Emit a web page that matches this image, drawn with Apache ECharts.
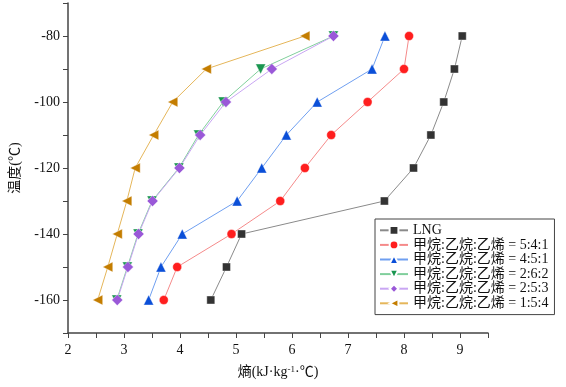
<!DOCTYPE html>
<html>
<head>
<meta charset="utf-8">
<script src="https://cdn.jsdelivr.net/npm/echarts@6/dist/echarts.min.js"></script>
<style>
  html, body { margin: 0; padding: 0; background: #fff; }
  #chart { width: 566px; height: 387px; }
</style>
</head>
<body>
<div id="chart"></div>
<script>
// temperature levels (℃) shared by every series
const temps = [-80, -90, -100, -110, -120, -130, -140, -150, -160];

// entropy (kJ·kg-1·℃), one value per temperature
const lng   = [9.04, 8.90, 8.71, 8.48, 8.17, 7.65, 5.10, 4.83, 4.55];
const r541  = [8.09, 8.00, 7.35, 6.70, 6.23, 5.79, 4.92, 3.95, 3.71];
const r451  = [7.66, 7.43, 6.45, 5.90, 5.46, 5.02, 4.04, 3.66, 3.44];
const r262  = [6.74, 5.44, 4.77, 4.33, 3.98, 3.50, 3.25, 3.06, 2.87];
const r253  = [6.74, 5.64, 4.82, 4.36, 3.99, 3.51, 3.26, 3.07, 2.88];
const r154  = [6.23, 4.47, 3.87, 3.53, 3.20, 3.05, 2.88, 2.71, 2.53];

const seriesNames = [
  'LNG',
  '甲烷:乙烷:乙烯 = 5:4:1',
  '甲烷:乙烷:乙烯 = 4:5:1',
  '甲烷:乙烷:乙烯 = 2:6:2',
  '甲烷:乙烷:乙烯 = 2:5:3',
  '甲烷:乙烷:乙烯 = 1:5:4'
];
const seriesData = [lng, r541, r451, r262, r253, r154];

const FONT = "'Liberation Serif', 'Noto Sans CJK SC', serif";

// look of each series: marker colour, line colour, symbol
const looks = [
  { mark: '#333333', line: '#8a8a8a', symbol: 'rect',     size: 8,  rot: 0 },
  { mark: '#ff1e1e', line: '#f58a8a', symbol: 'circle',   size: 9,  rot: 0 },
  { mark: '#0b4fd8', line: '#6f9ff0', symbol: 'triangle', size: 10, rot: 0 },
  { mark: '#1a9650', line: '#80cf9c', symbol: 'triangle', size: 10, rot: 180 },
  { mark: '#9a58d8', line: '#c9a6f3', symbol: 'diamond',  size: 11, rot: 0 },
  { mark: '#c47d00', line: '#e5b65a', symbol: 'triangle', size: 10, rot: 90 }
];

function pairs(xs) {
  return xs.map((x, i) => [x, temps[i]]);
}

const chart = echarts.init(document.getElementById('chart'));

chart.setOption({
  animation: false,
  textStyle: { fontFamily: FONT },
  grid: { left: 62, right: 78, top: 3, bottom: 54 },
  legend: {
    orient: 'vertical',
    left: 375,
    top: 219,
    padding: [4, 6, 4, 4],
    borderColor: '#444',
    borderWidth: 1,
    itemWidth: 28,
    itemHeight: 11,
    itemGap: 0,
    textStyle: { fontFamily: FONT, fontSize: 14, color: '#111', lineHeight: 14.6 },
    data: seriesNames
  },
  xAxis: {
    type: 'value',
    min: 2,
    max: 9.5,
    interval: 0.5,
    name: '熵(kJ·kg{sup|-1}·℃)',
    nameLocation: 'middle',
    nameGap: 32,
    nameTextStyle: {
      fontFamily: FONT, fontSize: 14, color: '#111',
      rich: { sup: { fontFamily: FONT, fontSize: 9, verticalAlign: 'top', padding: [0, 0, 6, 0], color: '#111' } }
    },
    axisLine: { lineStyle: { color: '#444', width: 1.5 } },
    axisTick: { length: 5, lineStyle: { color: '#444' } },
    axisLabel: {
      margin: 10, fontSize: 14, color: '#111', fontFamily: FONT,
      formatter: v => (Number.isInteger(v) ? String(v) : '')
    },
    splitLine: { show: false }
  },
  yAxis: {
    type: 'value',
    min: -170,
    max: -70,
    interval: 10,
    name: '温度(℃)',
    nameLocation: 'middle',
    nameGap: 46,
    nameTextStyle: { fontFamily: FONT, fontSize: 14, color: '#111' },
    axisLine: { lineStyle: { color: '#444', width: 1.5 } },
    axisTick: { length: 5, lineStyle: { color: '#444' } },
    axisLabel: {
      margin: 8, fontSize: 14, color: '#111', fontFamily: FONT,
      formatter: v => (v % 20 === 0 && v > -170 && v < -70 ? String(v) : '')
    },
    splitLine: { show: false }
  },
  series: seriesNames.map((name, i) => ({
    name: name,
    type: 'line',
    data: pairs(seriesData[i]),
    symbol: looks[i].symbol,
    symbolSize: looks[i].size,
    symbolRotate: looks[i].rot,
    showAllSymbol: true,
    lineStyle: { color: looks[i].line, width: 1 },
    itemStyle: { color: looks[i].mark, borderColor: '#fff', borderWidth: 0.4 }
  }))
});
</script>
</body>
</html>
